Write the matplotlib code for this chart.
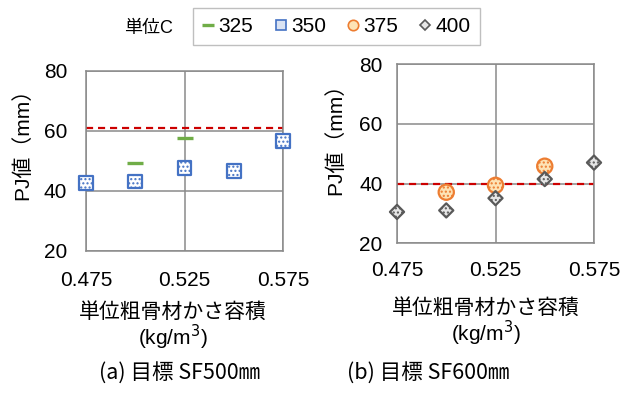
import matplotlib
matplotlib.use("Agg")
import matplotlib.pyplot as plt
from matplotlib.lines import Line2D

plt.rcParams['font.family'] = ['Liberation Sans', 'Noto Sans CJK JP']

# ---------------- data ----------------
xticks = [0.475, 0.525, 0.575]
yticks = [20, 40, 60, 80]

# (a) target SF500mm
a_x325 = [0.500, 0.525]
a_y325 = [49.2, 57.5]
a_x350 = [0.475, 0.500, 0.525, 0.550, 0.575]
a_y350 = [42.6, 43.2, 47.7, 46.7, 56.6]
a_target = 60.8

# (b) target SF600mm
b_x375 = [0.500, 0.525, 0.550]
b_y375 = [37.1, 39.4, 45.8]
b_x400 = [0.475, 0.500, 0.525, 0.550, 0.575]
b_y400 = [30.5, 31.0, 35.1, 41.5, 47.0]
b_target = 40.0

series_labels = ['325', '350', '375', '400']
captions = ['(a) 目標 SF500㎜', '(b) 目標 SF600㎜']

# ---------------- style ----------------
W, H = 633, 394
DPI = 100
GRID = '#8a8a8a'
GREEN = '#70AD47'
BLUE = '#4472C4'
ORANGE = '#ED7D31'
DGRAY = '#595959'
RED = '#CC0000'
FS = 15

fig = plt.figure(figsize=(W / DPI, H / DPI), dpi=DPI)

def px_axes(l, r, t, b):
    return fig.add_axes([l / W, 1 - b / H, (r - l) / W, (b - t) / H])

ax1 = px_axes(86, 283, 70.7, 251)
ax2 = px_axes(397, 594, 64, 243.3)

for ax, ypad, xpad in ((ax1, 13.5, 14.5), (ax2, 10.5, 13)):
    ax.set_xlim(0.475, 0.575)
    ax.set_ylim(20, 80)
    ax.set_xticks(xticks)
    ax.set_xticklabels([f'{v:.3f}' for v in xticks])
    ax.set_yticks(yticks)
    ax.grid(True, color=GRID, linewidth=1.1)
    ax.set_axisbelow(True)
    for s in ax.spines.values():
        s.set_color(GRID)
        s.set_linewidth(1.1)
    ax.tick_params(length=0, labelsize=FS)
    ax.tick_params(axis='y', pad=ypad)
    ax.tick_params(axis='x', pad=xpad)

# target lines
ax1.axhline(a_target, color=RED, linewidth=1.6, dashes=(3.2, 2.2), zorder=2)
ax2.axhline(b_target, color=RED, linewidth=1.6, dashes=(3.2, 2.2), zorder=2)

# (a)
h325, = ax1.plot(a_x325, a_y325, ls='none', marker='_', ms=11.5, mew=2.4,
                 color=GREEN, zorder=4, clip_on=False)
h350 = ax1.scatter(a_x350, a_y350, marker='s', s=95, facecolor='white',
                   edgecolor=BLUE, linewidth=1.6, hatch='....', zorder=4,
                   clip_on=False)

# (b)
h375 = ax2.scatter(b_x375, b_y375, marker='o', s=120, facecolor='#fde3b5',
                   edgecolor=ORANGE, linewidth=1.6, hatch='....', zorder=4,
                   clip_on=False)
h400 = ax2.scatter(b_x400, b_y400, marker='D', s=52, facecolor='#e6e6e6',
                   edgecolor=DGRAY, linewidth=1.6, hatch='....', zorder=5,
                   clip_on=False)

# y labels
fig.text(22 / W, 1 - 139 / H, 'PJ値（mm）', rotation=90, ha='center', va='center', fontsize=FS)
fig.text(335 / W, 1 - 134 / H, 'PJ値（mm）', rotation=90, ha='center', va='center', fontsize=FS)

# x labels
fig.text(173 / W, 1 - 312 / H, '単位粗骨材かさ容積', ha='center', va='center', fontsize=FS)
fig.text(173 / W, 1 - 337 / H, '(kg/m$^3$)', ha='center', va='center', fontsize=FS)
fig.text(486 / W, 1 - 308 / H, '単位粗骨材かさ容積', ha='center', va='center', fontsize=FS)
fig.text(486 / W, 1 - 333 / H, '(kg/m$^3$)', ha='center', va='center', fontsize=FS)

# captions
fig.text(180 / W, 1 - 374 / H, captions[0], ha='center', va='center', fontsize=15.5,
         family=['Noto Sans CJK JP'])
fig.text(428 / W, 1 - 374 / H, captions[1], ha='center', va='center', fontsize=15.5,
         family=['Noto Sans CJK JP'])

# legend
fig.text(148 / W, 1 - 29 / H, '単位C', ha='center', va='center', fontsize=13)
leg_handles = [
    Line2D([], [], ls='none', marker='_', ms=9, mew=2.4, color=GREEN),
    Line2D([], [], ls='none', marker='s', ms=7, mfc='#dae3f3', mec=BLUE, mew=1.2),
    Line2D([], [], ls='none', marker='o', ms=7.5, mfc='#fde3b5', mec=ORANGE, mew=1.2),
    Line2D([], [], ls='none', marker='D', ms=5.5, mfc='#e6e6e6', mec=DGRAY, mew=1.2),
]
leg = fig.legend(leg_handles, series_labels, loc='center', ncol=4,
                 bbox_to_anchor=((193 + 480) / 2 / W, 1 - 26.5 / H),
                 fontsize=FS, frameon=True, fancybox=False, framealpha=1,
                 edgecolor='#bfbfbf', handlelength=0.6, handletextpad=0.2,
                 columnspacing=1.0, borderpad=0.45, borderaxespad=0)
leg.get_frame().set_linewidth(1.0)

fig.savefig('out.png', dpi=DPI)
